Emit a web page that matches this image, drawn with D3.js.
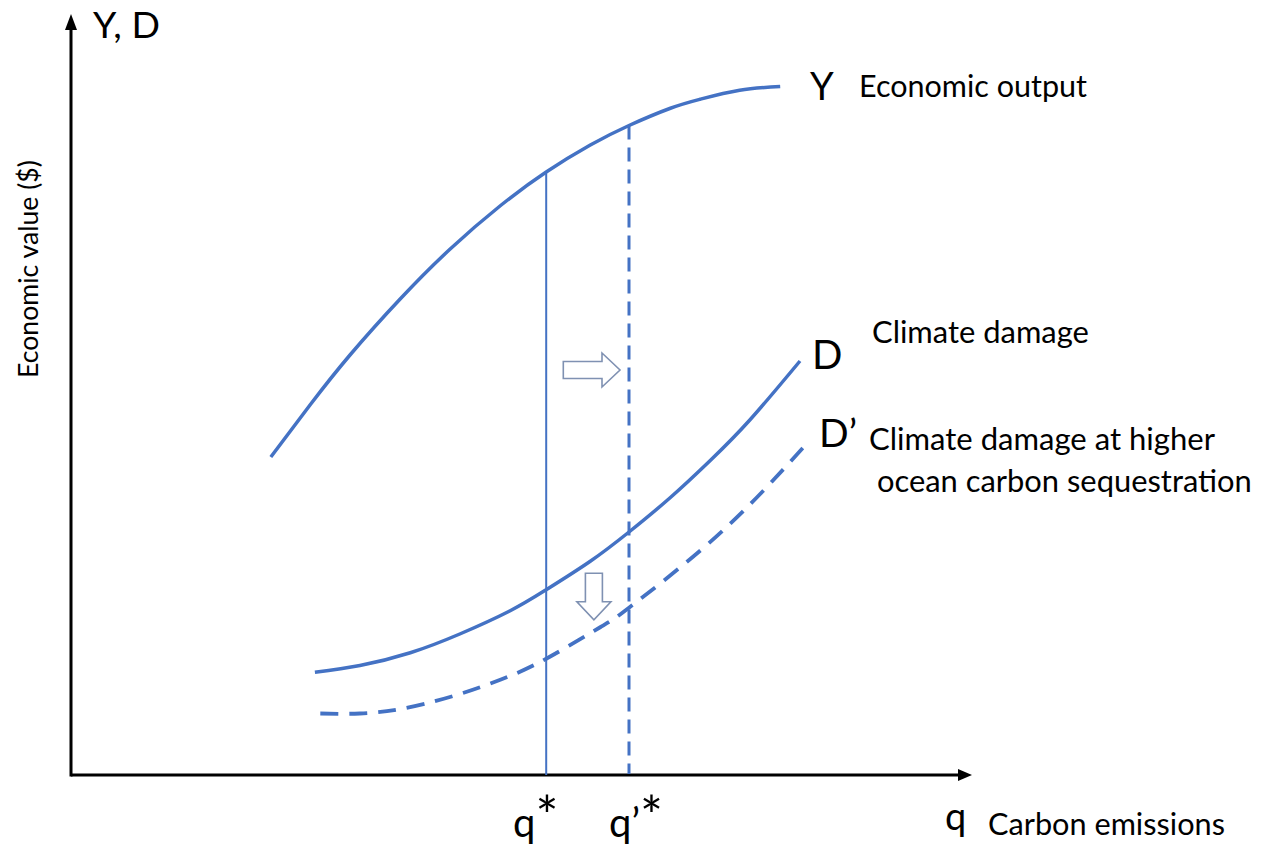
<!DOCTYPE html>
<html><head><meta charset="utf-8">
<script src="https://cdn.jsdelivr.net/npm/d3@7"></script>
<style>body{margin:0;background:#fff}svg{display:block}text{font-family:Lato,"Open Sans",sans-serif;fill:#000}</style>
</head><body>
<svg id="c" width="1265" height="854"></svg>
<script>
// ---- data (abstract units: q 0..100, value 0..100) ----
const outputQ   = [22.2, 26.6, 31.0, 36.6, 42.1, 47.7, 52.8, 57.7, 62.0, 66.6, 69.9, 74.3, 78.8];
const outputY   = [42.4, 49.4, 56.0, 63.5, 70.1, 75.9, 80.4, 84.0, 86.6, 88.9, 90.1, 91.3, 91.8];
const damageQ   = [27.1, 32.1, 37.7, 43.2, 48.8, 52.8, 57.7, 62.0, 66.6, 71.0, 75.4, 81.0];
const damageY   = [13.7, 14.6, 16.3, 18.8, 21.9, 24.7, 28.5, 32.4, 37.0, 41.9, 47.3, 55.2];
const damage2Q  = [27.7, 32.1, 36.6, 42.1, 47.7, 52.8, 58.8, 62.0, 69.9, 76.6, 81.6];
const damage2Y  = [8.2, 8.2, 8.8, 10.4, 12.7, 15.5, 19.7, 22.3, 29.9, 37.5, 44.0];
const qStar = 52.8, qStarTop = 80.4;
const qPrimeStar = 62.0, qPrimeStarTop = 86.6;
const shiftArrows = [ {q0:54.7, v0:54.0, q1:61.0, v1:54.0}, {q0:58.1, v0:26.9, q1:58.1, v1:20.7} ];
const tickLabels = ["q", "q\u2019"];

const svg = d3.select("#c");
const x = d3.scaleLinear().domain([0,100]).range([71,971]);
const y = d3.scaleLinear().domain([0,100]).range([775,25]);
const blue = "#4472C4";

// axes
const ax = svg.append("g");
ax.append("line").attr("x1",x(0)).attr("y1",y(0)+1.5).attr("x2",x(0)).attr("y2",y(100)+4)
  .attr("stroke","#000").attr("stroke-width",3);
ax.append("path").attr("d",`M${x(0)},${y(100)-11} L${x(0)-6},${y(100)+5} L${x(0)+6},${y(100)+5}Z`).attr("fill","#000");
ax.append("line").attr("x1",x(0)).attr("y1",y(0)).attr("x2",x(100)-4).attr("y2",y(0))
  .attr("stroke","#000").attr("stroke-width",3);
ax.append("path").attr("d",`M${x(100)+1},${y(0)} L${x(100)-13},${y(0)-6} L${x(100)-13},${y(0)+6}Z`).attr("fill","#000");

const line = d3.line().x(d=>x(d[0])).y(d=>y(d[1])).curve(d3.curveNatural);
const zip = (a,b)=>a.map((v,i)=>[v,b[i]]);

// vertical lines
svg.append("line").attr("x1",x(qStar)).attr("x2",x(qStar)).attr("y1",y(qStarTop)).attr("y2",y(0))
  .attr("stroke",blue).attr("stroke-width",2);
svg.append("line").attr("x1",x(qPrimeStar)).attr("x2",x(qPrimeStar)).attr("y1",y(qPrimeStarTop)).attr("y2",y(0)-1)
  .attr("stroke",blue).attr("stroke-width",3).attr("stroke-dasharray","14,8");

// curves
svg.append("path").attr("d",line(zip(outputQ,outputY))).attr("fill","none").attr("stroke",blue).attr("stroke-width",3.5);
svg.append("path").attr("d",line(zip(damageQ,damageY))).attr("fill","none").attr("stroke",blue).attr("stroke-width",3.5);
svg.append("path").attr("d",line(zip(damage2Q,damage2Y))).attr("fill","none").attr("stroke",blue).attr("stroke-width",3.8)
  .attr("stroke-dasharray","18,11");

// hollow block arrows
shiftArrows.forEach(a=>{
  const x0=x(a.q0), y0=y(a.v0), x1=x(a.q1), y1=y(a.v1);
  const L=Math.hypot(x1-x0,y1-y0), ux=(x1-x0)/L, uy=(y1-y0)/L, px=-uy, py=ux;
  const bw=8.5, hw=17, hl=18;
  const pts=[[0,bw],[L-hl,bw],[L-hl,hw],[L,0],[L-hl,-hw],[L-hl,-bw],[0,-bw]]
    .map(([s,t])=>[x0+ux*s+px*t, y0+uy*s+py*t]);
  svg.append("path").attr("d","M"+pts.map(p=>p.join(",")).join("L")+"Z")
    .attr("fill","#fff").attr("stroke","#7f91b2").attr("stroke-width",1.6);
});

// text helpers
function label(txt, xl, yb, w, size, rotate){
  const t=svg.append("text").text(txt).attr("font-size",size);
  const cw=t.node().getComputedTextLength();
  t.attr("font-size", size*w/cw);
  if(rotate){ t.attr("transform",`translate(${xl},${yb}) rotate(-90)`); }
  else t.attr("x",xl).attr("y",yb);
  return t;
}
function big(txt, xl, yb, size){
  return svg.append("text").text(txt).attr("x",xl).attr("y",yb).attr("font-size",size);
}
function starLabel(txt, xl, yb, size){
  const t=big(txt, xl, yb, size);
  t.append("tspan").text("*").attr("font-size",size*1.35).attr("dy",-2);
  return t;
}
label("Y, D", 93, 38, 67, 34);
label("Economic value ($)", 38, 378, 218, 24, true);
big("Y", 810, 100, 38);
label("Economic output", 859, 97, 228, 26);
label("Climate damage", 872, 343, 217, 26);
big("D", 812, 369, 40);
big("D\u2019", 819, 447, 39);
label("Climate damage at higher", 869, 450, 346, 26);
label("ocean carbon sequestration", 877, 492, 375, 26);
starLabel(tickLabels[0], 513, 837, 40);
starLabel(tickLabels[1], 609, 837, 40);
big("q", 945, 830, 38);
label("Carbon emissions", 988, 835, 237, 26);
</script>
</body></html>
